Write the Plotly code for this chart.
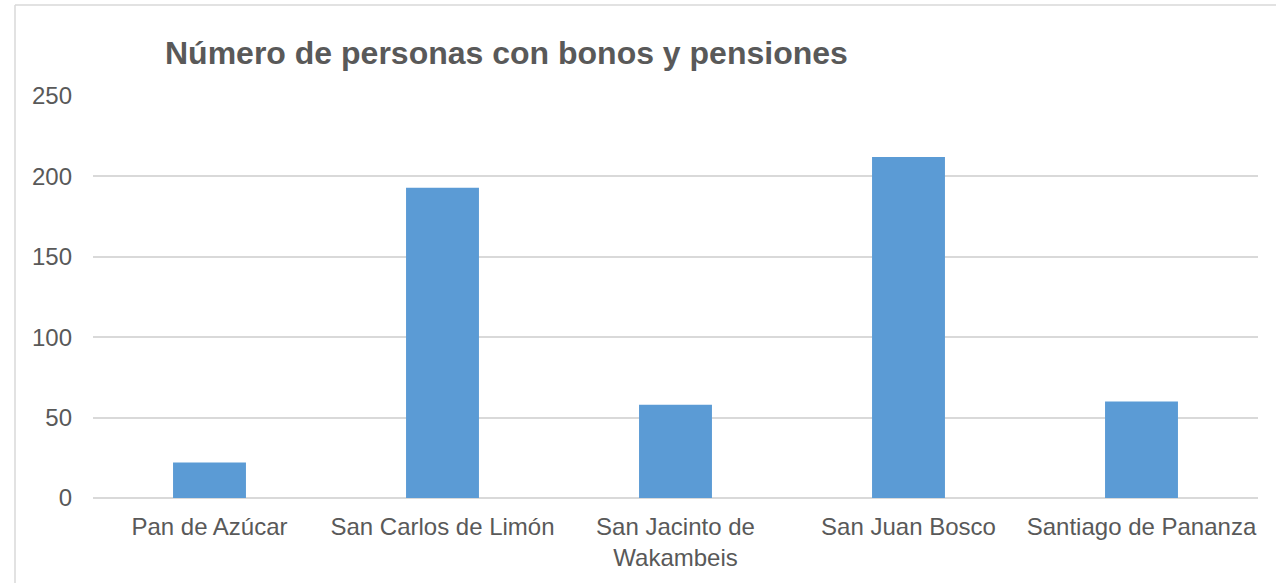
import plotly.graph_objects as go

categories = ["Pan de Azúcar", "San Carlos de Limón", "San Jacinto de<br>Wakambeis",
              "San Juan Bosco", "Santiago de Pananza"]
values = [22, 193, 58, 212, 60]
y_ticks = [0, 50, 100, 150, 200, 250]

W, H = 1276, 583
ml, mr, mt, mb = 93, 18, 96, 85
pw, ph = W - ml - mr, H - mt - mb

fig = go.Figure(go.Bar(
    x=categories, y=values,
    marker=dict(color="#5B9BD5", line=dict(width=0)),
    width=0.313,
))

def px2paper_x(px):
    return (px - ml) / pw

def py2paper_y(py):
    return (H - mb - py) / ph

fig.update_layout(
    width=W, height=H,
    margin=dict(l=ml, r=mr, t=mt, b=mb),
    paper_bgcolor="white", plot_bgcolor="white",
    font=dict(family="Liberation Sans, Arial, sans-serif", color="#595959", size=24),
    showlegend=False,
    title=dict(text="<b>Número de personas con bonos y pensiones</b>",
               font=dict(size=32, color="#595959"),
               x=px2paper_x(165), xref="paper", xanchor="left",
               y=1 - 53 / H, yanchor="middle"),
    xaxis=dict(showgrid=False, showline=False, zeroline=False, ticks="",
               tickfont=dict(size=24, color="#595959"), ticklabelstandoff=12),
    yaxis=dict(range=[0, 250], tickvals=y_ticks, showgrid=True,
               gridcolor="#D9D9D9", gridwidth=1.5, zeroline=True,
               zerolinecolor="#D9D9D9", zerolinewidth=1.5, showline=False,
               ticks="", tickfont=dict(size=24, color="#595959"),
               ticklabelstandoff=20),
    shapes=[
        dict(type="line", xref="paper", yref="paper",
             x0=px2paper_x(15), x1=px2paper_x(15),
             y0=py2paper_y(5), y1=py2paper_y(590),
             line=dict(color="#D9D9D9", width=1.5)),
        dict(type="line", xref="paper", yref="paper",
             x0=px2paper_x(15), x1=px2paper_x(1280),
             y0=py2paper_y(5), y1=py2paper_y(5),
             line=dict(color="#D9D9D9", width=1.5)),
    ],
)

fig.write_html("out.html", config={"displayModeBar": False},
               post_script="document.body.style.margin='0';document.body.style.overflow='hidden';")
